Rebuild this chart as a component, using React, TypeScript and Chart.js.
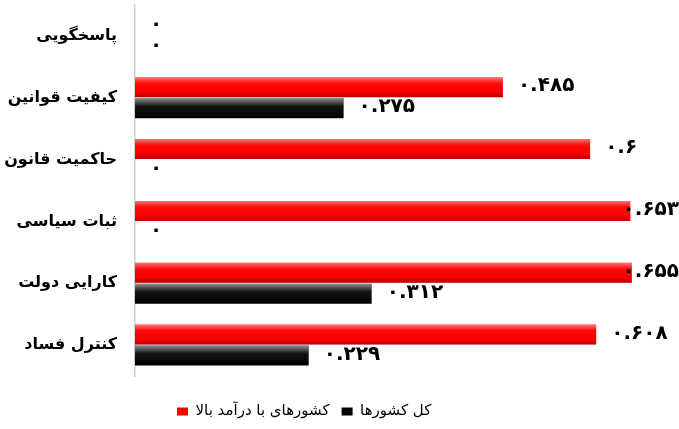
import { useEffect, useRef } from 'react';
import { Chart, registerables } from 'chart.js';

Chart.register(...registerables);

const categories = ['پاسخگویی', 'کیفیت قوانین', 'حاکمیت قانون', 'ثبات سیاسی', 'کارایی دولت', 'کنترل فساد'];
const highIncome = [0, 0.485, 0.6, 0.653, 0.655, 0.608];
const allCountries = [0, 0.275, 0, 0, 0.312, 0.229];
const seriesNames = ['کشورهای با درآمد بالا', 'کل کشورها'];
const xMin = 0;
const xMax = 0.7;

const FONT = '"DejaVu Sans", sans-serif';
const toPersian = (v: number) => String(v).replace(/\d/g, (d) => '۰۱۲۳۴۵۶۷۸۹'[+d]);

const glossPlugin = {
  id: 'gloss',
  afterDatasetsDraw(chart: any) {
    const ctx = chart.ctx;
    chart.data.datasets.forEach((_: any, di: number) => {
      const meta = chart.getDatasetMeta(di);
      meta.data.forEach((el: any) => {
        const x0 = Math.min(el.base, el.x);
        const w = Math.abs(el.x - el.base);
        if (w < 1) return;
        const h = el.height;
        const y0 = el.y - h / 2;
        ctx.save();
        const g = ctx.createLinearGradient(0, y0, 0, y0 + h);
        if (di === 0) {
          g.addColorStop(0, 'rgba(255,255,255,0.45)');
          g.addColorStop(0.3, 'rgba(255,255,255,0.05)');
          g.addColorStop(0.7, 'rgba(0,0,0,0)');
          g.addColorStop(1, 'rgba(0,0,0,0.28)');
        } else {
          g.addColorStop(0, 'rgba(255,255,255,0.55)');
          g.addColorStop(0.4, 'rgba(255,255,255,0.08)');
          g.addColorStop(1, 'rgba(255,255,255,0)');
        }
        ctx.fillStyle = g;
        ctx.fillRect(x0, y0, w, h);
        ctx.restore();
      });
    });
  },
};

const labelPlugin = {
  id: 'valueLabels',
  afterDatasetsDraw(chart: any) {
    const ctx = chart.ctx;
    ctx.save();
    ctx.font = 'bold 20px ' + FONT;
    ctx.fillStyle = '#000';
    ctx.textBaseline = 'middle';
    ctx.textAlign = 'left';
    chart.data.datasets.forEach((ds: any, di: number) => {
      const meta = chart.getDatasetMeta(di);
      meta.data.forEach((el: any, i: number) => {
        const text = toPersian(ds.data[i]);
        const w = ctx.measureText(text).width;
        let x = el.x + 15;
        if (x + w > chart.width) x = chart.width - w;
        ctx.fillText(text, x, el.y - 1);
      });
    });
    ctx.restore();
  },
};

const legendPlace = {
  id: 'legendPlace',
  afterLayout(chart: any) {
    const lg = chart.legend;
    if (!lg) return;
    const w = lg.width;
    const h = lg.height;
    lg.left = 165;
    lg.right = 165 + w;
    lg.top = 392;
    lg.bottom = 392 + h;
  },
};

export default function App() {
  const ref = useRef<HTMLCanvasElement>(null);
  useEffect(() => {
    document.body.style.margin = '0';
    const chart = new Chart(ref.current!, {
      type: 'bar',
      data: {
        labels: categories,
        datasets: [
          {
            label: seriesNames[0],
            data: highIncome,
            backgroundColor: '#ff0000',
            borderWidth: 0,
            categoryPercentage: 0.68,
            barPercentage: 0.95,
          },
          {
            label: seriesNames[1],
            data: allCountries,
            backgroundColor: '#000000',
            borderWidth: 0,
            categoryPercentage: 0.68,
            barPercentage: 0.95,
          },
        ],
      },
      options: {
        indexAxis: 'y',
        responsive: false,
        animation: false,
        layout: { padding: { top: 5, bottom: 16, left: 0, right: 13 } },
        scales: {
          x: { display: false, min: xMin, max: xMax },
          y: {
            grid: { display: false, drawTicks: false },
            border: { display: true, color: '#cfcfcf', width: 1.5 },
            ticks: { padding: 18, color: '#000', font: { family: FONT, size: 16, weight: 'bold' } },
            afterFit: (scale: any) => {
              scale.width = 135;
              scale.paddingTop = 0;
              scale.paddingBottom = 0;
            },
          },
        },
        plugins: {
          legend: {
            position: 'bottom',
            align: 'start',
            labels: {
              boxWidth: 11,
              boxHeight: 8,
              padding: 12,
              color: '#000',
              font: { family: FONT, size: 15 },
            },
          },
          tooltip: { enabled: false },
        },
      },
      plugins: [glossPlugin, labelPlugin, legendPlace],
    } as any);
    return () => chart.destroy();
  }, []);
  return (
    <div style={{ width: 679, height: 429 }}>
      <canvas ref={ref} width={679} height={429} />
    </div>
  );
}
